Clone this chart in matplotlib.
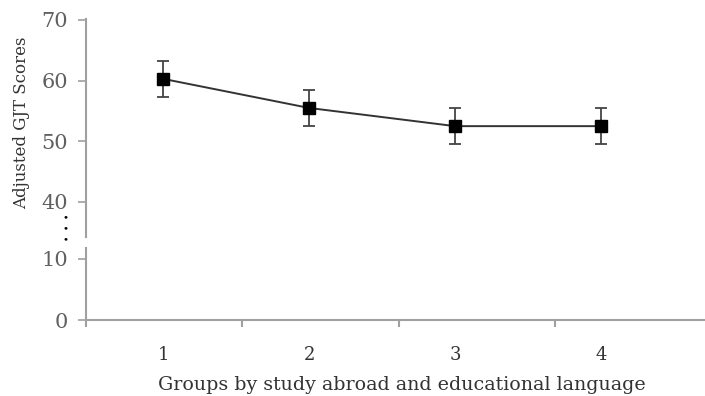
import numpy as np
import matplotlib
matplotlib.use("Agg")
import matplotlib.pyplot as plt

groups = [1, 2, 3, 4]
scores = [60.3, 55.5, 52.5, 52.5]
errors = [3.0, 3.0, 3.0, 3.0]
upper_ticks = [40, 50, 60, 70]
lower_ticks = [0, 10]

plt.rcParams['font.family'] = ['DejaVu Serif']
axis_color = '#a0a0a0'
label_color = '#606060'

fig = plt.figure(figsize=(7.05, 3.96), dpi=100)
left, right = 86 / 705, 711 / 705
ax_top = fig.add_axes([left, 1 - 237 / 396, right - left, (237 - 19) / 396])
ax_bot = fig.add_axes([left, 1 - 320 / 396, right - left, (320 - 248) / 396])

xlo, xhi = 0.4726, 4.753
for ax in (ax_top, ax_bot):
    ax.set_xlim(xlo, xhi)
    ax.spines['right'].set_visible(False)
    ax.spines['top'].set_visible(False)
    ax.spines['left'].set_color(axis_color)
    ax.spines['left'].set_linewidth(1.5)
    ax.spines['bottom'].set_color(axis_color)
    ax.spines['bottom'].set_linewidth(1.5)
    ax.tick_params(axis='y', direction='out', length=6, width=1.2, color=axis_color,
                   labelsize=15, labelcolor=label_color, pad=7)
    ax.patch.set_alpha(0)

ax_top.spines['bottom'].set_visible(False)
ax_top.set_ylim(34.23, 70.16)
ax_top.set_yticks(upper_ticks)
ax_top.set_xticks([])

ax_bot.set_ylim(0, 11.8)
ax_bot.set_yticks(lower_ticks)
ax_bot.set_xticks(groups)
ax_bot.set_xticklabels([str(g) for g in groups])
ax_bot.tick_params(axis='x', which='major', length=0, pad=19, labelsize=13, labelcolor='#333333')
ax_bot.set_xticks(np.linspace(xlo, xhi, 5)[:-1], minor=True)
ax_bot.tick_params(axis='x', which='minor', direction='out', length=5, width=1.5, color=axis_color)

ax_top.errorbar(groups, scores, yerr=errors, color='#333333', lw=1.4,
                marker='s', markersize=9, markerfacecolor='black', markeredgecolor='black',
                ecolor='#444444', elinewidth=1.3, capsize=4, capthick=1.3,
                clip_on=False, zorder=3)

fig.text(22 / 705, 1 - 123 / 396, 'Adjusted GJT Scores', rotation=90, ha='center', va='center',
         fontsize=12, color='#333333')
fig.text(0.5 * (158 + 645) / 705, 1 - 385 / 396,
         'Groups by study abroad and educational language',
         ha='center', va='center', fontsize=13.7, color='#333333')

for yy in (218, 229, 240):
    fig.text(66 / 705, 1 - yy / 396, '\u2022', ha='center', va='center', fontsize=7.5, color='black')

fig.savefig('out.png', dpi=100)
